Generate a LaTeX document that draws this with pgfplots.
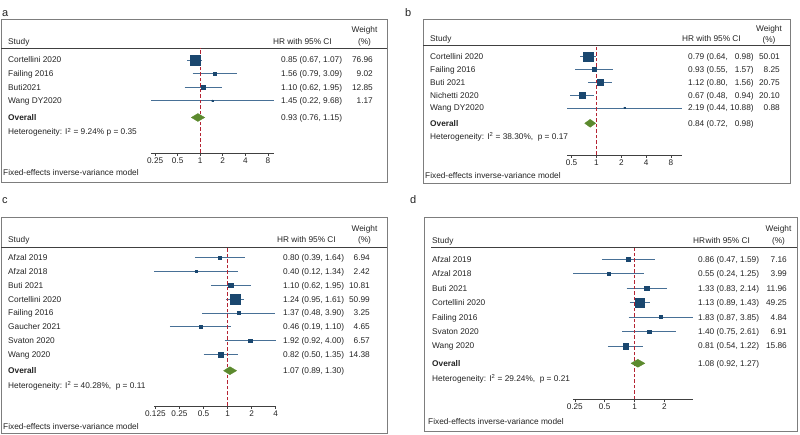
\documentclass[border=0pt]{standalone}
\usepackage{pgfplots}
\pgfplotsset{compat=1.18}
\usepackage{pgfplotstable}
\usepackage{fontspec}
\setmainfont{Liberation Sans}
\definecolor{sqc}{RGB}{26,71,111}
\definecolor{cil}{RGB}{72,112,150}
\definecolor{dia}{RGB}{92,138,46}
\definecolor{redl}{RGB}{180,35,50}
\definecolor{frm}{RGB}{125,125,125}
\definecolor{txt}{RGB}{35,35,35}
\newcommand\ft{\fontsize{8.3}{10}\selectfont}
\pgfplotsset{
  fplot/.style={scale only axis, clip=false,
    axis y line=none, axis x line*=bottom,
    x axis line style={-, black!75, line width=0.6pt},
    tick align=outside, major tick length=3pt, xminorticks=false,
    tick style={black!75, line width=0.5pt},
    xticklabel style={font=\fontsize{8.2}{9}\selectfont, text=txt, inner sep=1.5pt},
    enlargelimits=false, anchor=south west},
  ciline/.style={cil, line width=0.7pt, mark=none},
  boxes/.style={only marks, mark=square*, scatter, point meta=explicit,
    scatter/use mapped color={draw=sqc, fill=sqc},
    visualization depends on={#1*sqrt(\thisrow{w}) \as \msz},
    scatter/@pre marker code/.append style={/tikz/mark size=\msz}},
  ptdot/.style={only marks, mark=*, mark size=0.8pt, sqc},
  nullline/.style={redl, dash pattern=on 3.5pt off 2pt, line width=0.7pt, mark=none},
  ovdiam/.style={fill=dia, draw=dia, line width=0.3pt, mark=none},
}
\newcommand\ci[3]{\addplot[ciline] coordinates {(#1,#3) (#2,#3)};}
\newcommand\tl[3]{\node[anchor=base west, inner sep=0pt, font=\ft, text=txt] at (#1,#2) {#3};}
\newcommand\tr[3]{\node[anchor=base east, inner sep=0pt, font=\ft, text=txt] at (#1,#2) {#3};}
\newcommand\tc[3]{\node[anchor=base, inner sep=0pt, font=\ft, text=txt] at (#1,#2) {#3};}

% panel a
\pgfplotstableread{
y hr lo hi w
375 0.85 0.67 1.07 76.96
361.4 1.56 0.79 3.09 9.02
347.8 1.10 0.62 1.95 12.85
334.2 1.45 0.22 9.68 1.17
}\tabA
% panel b
\pgfplotstableread{
y hr lo hi w
378.3 0.79 0.64 0.98 50.01
365.5 0.93 0.55 1.57 8.25
352.7 1.12 0.80 1.56 20.75
339.9 0.67 0.48 0.94 20.10
327.1 2.19 0.44 10.88 0.88
}\tabB
% panel c
\pgfplotstableread{
y hr lo hi w
177.3 0.80 0.39 1.64 6.94
163.5 0.40 0.12 1.34 2.42
149.7 1.10 0.62 1.95 10.81
135.9 1.24 0.95 1.61 50.99
122.1 1.37 0.48 3.90 3.25
108.3 0.46 0.19 1.10 4.65
94.5 1.92 0.92 4.00 6.57
80.7 0.82 0.50 1.35 14.38
}\tabC
% panel d
\pgfplotstableread{
y hr lo hi w
175.7 0.86 0.47 1.59 7.16
161.3 0.55 0.24 1.25 3.99
146.8 1.33 0.83 2.14 11.96
132.4 1.13 0.89 1.43 49.25
117.9 1.83 0.87 3.85 4.84
103.5 1.40 0.75 2.61 6.91
89 0.81 0.54 1.22 15.86
}\tabD

\begin{document}
\begin{tikzpicture}[x=1pt,y=1pt]
\useasboundingbox (0,0) rectangle (800,435);

% ---------------- panel a ----------------
\node[anchor=base west, inner sep=0pt, font=\fontsize{11}{12}\selectfont, text=txt] at (2,418.3) {a};
\draw[frm, line width=0.8pt] (1,416) rectangle (387,253);
\draw[black!75, line width=0.7pt] (1,386.7) -- (387,386.7);
\tl{8}{390}{Study}
\tl{273}{390}{HR with 95\% CI}
\tc{364.5}{402}{Weight}
\tc{364.5}{390}{(\%)}
\tl{8}{372}{Cortellini 2020}
\tl{8}{358.4}{Failing 2016}
\tl{8}{344.8}{Buti2021}
\tl{8}{331.2}{Wang DY2020}
\tl{8}{314.5}{\textbf{Overall}}
\tl{8}{300}{Heterogeneity: I\textsuperscript{2} = 9.24\% p = 0.35}
\tl{281}{372}{0.85 (0.67, 1.07)}
\tl{281}{358.4}{1.56 (0.79, 3.09)}
\tl{281}{344.8}{1.10 (0.62, 1.95)}
\tl{281}{331.2}{1.45 (0.22, 9.68)}
\tl{281}{314.5}{0.93 (0.76, 1.15)}
\tr{373}{372}{76.96}
\tr{373}{358.4}{9.02}
\tr{373}{344.8}{12.85}
\tr{373}{331.2}{1.17}
\tl{3}{259}{Fixed-effects inverse-variance model}
\begin{axis}[xmode=log, log basis x=2, fplot, at={(151pt,282pt)}, width=123pt, height=104.7pt,
  xmin=0.22, xmax=9.68, ymin=282, ymax=386.7,
  xtick={0.25,0.5,1,2,4,8}, xticklabels={0.25,0.5,1,2,4,8}]
\ci{0.67}{1.07}{375}
\ci{0.79}{3.09}{361.4}
\ci{0.62}{1.95}{347.8}
\ci{0.22}{9.68}{334.2}
\addplot[nullline] coordinates {(1,282) (1,386.7)};
\addplot[boxes=0.55] table[x=hr, y=y, meta=w] {\tabA};
\addplot[ptdot] table[x=hr, y=y] {\tabA};
\addplot[ovdiam] coordinates {(0.76,317.5) (0.93,321.5) (1.15,317.5) (0.93,313.5) (0.76,317.5)};
\end{axis}

% ---------------- panel b ----------------
\node[anchor=base west, inner sep=0pt, font=\fontsize{11}{12}\selectfont, text=txt] at (405,418.3) {b};
\draw[frm, line width=0.8pt] (423,416) rectangle (790,252);
\draw[black!75, line width=0.7pt] (423,389.3) -- (790,389.3);
\tl{430}{393}{Study}
\tl{682}{393}{HR with 95\% CI}
\tc{769}{403}{Weight}
\tc{769}{392}{(\%)}
\tl{430}{375.3}{Cortellini 2020}
\tl{430}{362.5}{Failing 2016}
\tl{430}{349.7}{Buti 2021}
\tl{430}{336.9}{Nichetti 2020}
\tl{430}{324.1}{Wang DY2020}
\tl{430}{308.7}{\textbf{Overall}}
\tl{430}{295.3}{Heterogeneity: I\textsuperscript{2} = 38.30\%,\ \ p = 0.17}
\tl{688}{375.3}{0.79 (0.64, \phantom{1}0.98)}
\tl{688}{362.5}{0.93 (0.55, \phantom{1}1.57)}
\tl{688}{349.7}{1.12 (0.80, \phantom{1}1.56)}
\tl{688}{336.9}{0.67 (0.48, \phantom{1}0.94)}
\tl{688}{324.1}{2.19 (0.44, 10.88)}
\tl{688}{308.7}{0.84 (0.72, \phantom{1}0.98)}
\tr{780}{375.3}{50.01}
\tr{780}{362.5}{8.25}
\tr{780}{349.7}{20.75}
\tr{780}{336.9}{20.10}
\tr{780}{324.1}{0.88}
\tl{425}{256}{Fixed-effects inverse-variance model}
\begin{axis}[xmode=log, log basis x=2, fplot, at={(567pt,280pt)}, width=115pt, height=109.3pt,
  xmin=0.44, xmax=10.88, ymin=280, ymax=389.3,
  xtick={0.5,1,2,4,8}, xticklabels={0.5,1,2,4,8}]
\ci{0.64}{0.98}{378.3}
\ci{0.55}{1.57}{365.5}
\ci{0.80}{1.56}{352.7}
\ci{0.48}{0.94}{339.9}
\ci{0.44}{10.88}{327.1}
\addplot[nullline] coordinates {(1,280) (1,389.3)};
\addplot[boxes=0.68] table[x=hr, y=y, meta=w] {\tabB};
\addplot[ptdot] table[x=hr, y=y] {\tabB};
\addplot[ovdiam] coordinates {(0.72,311.7) (0.84,315.7) (0.98,311.7) (0.84,307.7) (0.72,311.7)};
\end{axis}

% ---------------- panel c ----------------
\node[anchor=base west, inner sep=0pt, font=\fontsize{11}{12}\selectfont, text=txt] at (2,231.7) {c};
\draw[frm, line width=0.8pt] (1,217.3) rectangle (387,2);
\draw[black!75, line width=0.7pt] (1,187.7) -- (387,187.7);
\tl{8}{192}{Study}
\tl{277}{192}{HR with 95\% CI}
\tc{364.5}{203}{Weight}
\tc{364.5}{192}{(\%)}
\tl{8}{174.3}{Afzal 2019}
\tl{8}{160.5}{Afzal 2018}
\tl{8}{146.7}{Buti 2021}
\tl{8}{132.9}{Cortellini 2020}
\tl{8}{119.1}{Failing 2016}
\tl{8}{105.3}{Gaucher 2021}
\tl{8}{91.5}{Svaton 2020}
\tl{8}{77.7}{Wang 2020}
\tl{8}{61.3}{\textbf{Overall}}
\tl{8}{46.3}{Heterogeneity: I\textsuperscript{2} = 40.28\%,\ \ p = 0.11}
\tl{283}{174.3}{0.80 (0.39, 1.64)}
\tl{283}{160.5}{0.40 (0.12, 1.34)}
\tl{283}{146.7}{1.10 (0.62, 1.95)}
\tl{283}{132.9}{1.24 (0.95, 1.61)}
\tl{283}{119.1}{1.37 (0.48, 3.90)}
\tl{283}{105.3}{0.46 (0.19, 1.10)}
\tl{283}{91.5}{1.92 (0.92, 4.00)}
\tl{283}{77.7}{0.82 (0.50, 1.35)}
\tl{283}{61.3}{1.07 (0.89, 1.30)}
\tr{370}{174.3}{6.94}
\tr{370}{160.5}{2.42}
\tr{370}{146.7}{10.81}
\tr{370}{132.9}{50.99}
\tr{370}{119.1}{3.25}
\tr{370}{105.3}{4.65}
\tr{370}{91.5}{6.57}
\tr{370}{77.7}{14.38}
\tl{3}{5}{Fixed-effects inverse-variance model}
\begin{axis}[xmode=log, log basis x=2, fplot, at={(154pt,29pt)}, width=121.7pt, height=158.7pt,
  xmin=0.12, xmax=4.00, ymin=29, ymax=187.7,
  xtick={0.125,0.25,0.5,1,2,4}, xticklabels={0.125,0.25,0.5,1,2,4}]
\ci{0.39}{1.64}{177.3}
\ci{0.12}{1.34}{163.5}
\ci{0.62}{1.95}{149.7}
\ci{0.95}{1.61}{135.9}
\ci{0.48}{3.90}{122.1}
\ci{0.19}{1.10}{108.3}
\ci{0.92}{4.00}{94.5}
\ci{0.50}{1.35}{80.7}
\addplot[nullline] coordinates {(1,29) (1,187.7)};
\addplot[boxes=0.67] table[x=hr, y=y, meta=w] {\tabC};
\addplot[ptdot] table[x=hr, y=y] {\tabC};
\addplot[ovdiam] coordinates {(0.89,64.3) (1.07,68.3) (1.30,64.3) (1.07,60.3) (0.89,64.3)};
\end{axis}

% ---------------- panel d ----------------
\node[anchor=base west, inner sep=0pt, font=\fontsize{11}{12}\selectfont, text=txt] at (410,231.7) {d};
\draw[frm, line width=0.8pt] (424,217.3) rectangle (797,3.3);
\draw[black!75, line width=0.7pt] (431,187.3) -- (797,187.3);
\tl{432}{191.3}{Study}
\tl{693}{191.3}{HR\kern0.5pt with 95\% CI}
\tc{778.5}{203}{Weight}
\tc{778.5}{191.3}{(\%)}
\tl{432}{172.7}{Afzal 2019}
\tl{432}{158.3}{Afzal 2018}
\tl{432}{143.8}{Buti 2021}
\tl{432}{129.4}{Cortellini 2020}
\tl{432}{114.9}{Failing 2016}
\tl{432}{100.5}{Svaton 2020}
\tl{432}{86}{Wang 2020}
\tl{432}{68.7}{\textbf{Overall}}
\tl{432}{53.7}{Heterogeneity: I\textsuperscript{2} = 29.24\%,\ \ p = 0.21}
\tl{698}{172.7}{0.86 (0.47, 1.59)}
\tl{698}{158.3}{0.55 (0.24, 1.25)}
\tl{698}{143.8}{1.33 (0.83, 2.14)}
\tl{698}{129.4}{1.13 (0.89, 1.43)}
\tl{698}{114.9}{1.83 (0.87, 3.85)}
\tl{698}{100.5}{1.40 (0.75, 2.61)}
\tl{698}{86}{0.81 (0.54, 1.22)}
\tl{698}{68.7}{1.08 (0.92, 1.27)}
\tr{787}{172.7}{7.16}
\tr{787}{158.3}{3.99}
\tr{787}{143.8}{11.96}
\tr{787}{129.4}{49.25}
\tr{787}{114.9}{4.84}
\tr{787}{100.5}{6.91}
\tr{787}{86}{15.86}
\tl{428}{10}{Fixed-effects inverse-variance model}
\begin{axis}[xmode=log, log basis x=2, fplot, at={(573pt,35.7pt)}, width=119.7pt, height=151.6pt,
  xmin=0.24, xmax=3.85, ymin=35.7, ymax=187.3,
  xtick={0.25,0.5,1,2}, xticklabels={0.25,0.5,1,2}]
\ci{0.47}{1.59}{175.7}
\ci{0.24}{1.25}{161.3}
\ci{0.83}{2.14}{146.8}
\ci{0.89}{1.43}{132.4}
\ci{0.87}{3.85}{117.9}
\ci{0.75}{2.61}{103.5}
\ci{0.54}{1.22}{89}
\addplot[nullline] coordinates {(1,35.7) (1,187.3)};
\addplot[boxes=0.68] table[x=hr, y=y, meta=w] {\tabD};
\addplot[ptdot] table[x=hr, y=y] {\tabD};
\addplot[ovdiam] coordinates {(0.92,71.7) (1.08,75.7) (1.27,71.7) (1.08,67.7) (0.92,71.7)};
\end{axis}
\end{tikzpicture}
\end{document}
